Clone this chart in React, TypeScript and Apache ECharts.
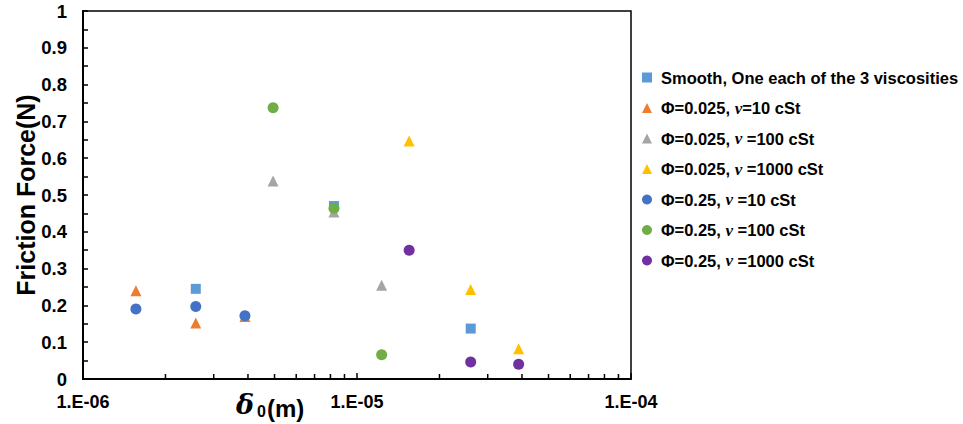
import React, { useEffect, useRef } from "react";
import * as echarts from "echarts";

// x positions (delta_0, m)
const smoothX = [2.58e-6, 8.24e-6, 2.6e-5];
const smoothY = [0.245, 0.47, 0.137];
const phi025nu10X = [1.56e-6, 2.58e-6, 3.9e-6];
const phi025nu10Y = [0.24, 0.152, 0.17];
const phi025nu100X = [4.94e-6, 8.24e-6, 1.23e-5];
const phi025nu100Y = [0.538, 0.454, 0.255];
const phi025nu1000X = [1.55e-5, 2.6e-5, 3.89e-5];
const phi025nu1000Y = [0.647, 0.243, 0.082];
const phi25nu10X = [1.56e-6, 2.58e-6, 3.9e-6];
const phi25nu10Y = [0.19, 0.197, 0.172];
const phi25nu100X = [4.94e-6, 8.24e-6, 1.23e-5];
const phi25nu100Y = [0.737, 0.464, 0.066];
const phi25nu1000X = [1.55e-5, 2.6e-5, 3.89e-5];
const phi25nu1000Y = [0.35, 0.046, 0.04];

const seriesNames = [
  "Smooth, One each of the 3 viscosities",
  "Φ=0.025, ν=10 cSt",
  "Φ=0.025, ν =100 cSt",
  "Φ=0.025, ν =1000 cSt",
  "Φ=0.25, ν =10 cSt",
  "Φ=0.25, ν =100 cSt",
  "Φ=0.25, ν =1000 cSt",
];
const seriesColors = ["#5B9BD5", "#ED7D31", "#A5A5A5", "#FFC000", "#4472C4", "#70AD47", "#7030A0"];
const seriesSymbols = ["rect", "triangle", "triangle", "triangle", "circle", "circle", "circle"];
const seriesX = [smoothX, phi025nu10X, phi025nu100X, phi025nu1000X, phi25nu10X, phi25nu100X, phi25nu1000X];
const seriesY = [smoothY, phi025nu10Y, phi025nu100Y, phi025nu1000Y, phi25nu10Y, phi25nu100Y, phi25nu1000Y];

const xMinorTicks = [2e-6, 3e-6, 4e-6, 5e-6, 6e-6, 7e-6, 8e-6, 9e-6, 2e-5, 3e-5, 4e-5, 5e-5, 6e-5, 7e-5, 8e-5, 9e-5];

const FONT = "'Liberation Sans', Arial, sans-serif";

export default function App() {
  const ref = useRef<HTMLDivElement>(null);
  useEffect(() => {
    if (!ref.current) return;
    const chart = echarts.init(ref.current, undefined, { renderer: "svg" });
    const scatter = seriesNames.map((name, i) => ({
      name,
      type: "scatter",
      symbol: seriesSymbols[i],
      symbolSize: seriesSymbols[i] === "rect" ? 10 : 11,
      itemStyle: { color: seriesColors[i], opacity: 1 },
      data: seriesX[i].map((x, j) => [x, seriesY[i][j]]),
      z: 3 + i,
    }));
    chart.setOption({
      animation: false,
      backgroundColor: "#fff",
      textStyle: { fontFamily: FONT },
      grid: {
        left: 83,
        right: 332,
        top: 11,
        bottom: 45,
        containLabel: false,
        outerBoundsMode: "none",
        show: true,
        borderColor: "#000",
        borderWidth: 1.5,
      },
      legend: {
        data: seriesNames,
        orient: "vertical",
        left: 637,
        top: 64,
        itemWidth: 10,
        itemHeight: 10,
        itemGap: 13.5,
        formatter: (name: string) => {
          const idx = name.indexOf("ν");
          if (idx < 0) return "{b|" + name + "}";
          const a = name.slice(0, idx);
          const b = name.slice(idx + 1);
          return "{b|" + a + "}{i|ν}{b|" + b + "}";
        },
        textStyle: {
          rich: {
            b: { fontFamily: FONT, fontWeight: "bold", fontSize: 16.5, color: "#000" },
            i: { fontFamily: "'Liberation Serif', serif", fontStyle: "italic", fontWeight: "bold", fontSize: 17, color: "#000" },
          },
          padding: [0, 0, 0, 4],
        },
      },
      xAxis: {
        type: "log",
        logBase: 10,
        min: 1e-6,
        max: 1e-4,
        axisLine: { show: true, onZero: false, lineStyle: { color: "#000", width: 2 } },
        axisTick: { show: true, inside: true, length: 6, lineStyle: { color: "#000", width: 1.5 } },
        splitLine: { show: false },
        axisLabel: {
          margin: 14,
          fontFamily: FONT,
          fontWeight: "bold",
          fontSize: 18,
          color: "#000",
          formatter: (v: number) => {
            const e = Math.round(Math.log10(v));
            const s = Math.abs(e).toString().padStart(2, "0");
            return "1.E" + (e < 0 ? "-" : "+") + s;
          },
        },
      },
      yAxis: {
        type: "value",
        min: 0,
        max: 1,
        interval: 0.1,
        name: "Friction Force(N)",
        nameLocation: "middle",
        nameGap: 45,
        nameMoveOverlap: false,
        nameTextStyle: { fontFamily: FONT, fontWeight: "bold", fontSize: 25, color: "#000" },
        axisLine: { show: true, lineStyle: { color: "#000", width: 2 } },
        axisTick: { show: true, inside: true, length: 5, lineStyle: { color: "#000", width: 1.5 } },
        minorTick: { show: true, splitNumber: 2, length: 5, lineStyle: { color: "#000", width: 1.5 } },
        splitLine: { show: false },
        axisLabel: { margin: 16, fontFamily: FONT, fontWeight: "bold", fontSize: 18.5, color: "#000" },
      },
      graphic: [
        {
          type: "text",
          left: 236,
          top: 391,
          style: { text: "δ", fontFamily: "'DejaVu Serif', serif", fontStyle: "italic", fontWeight: "bold", fontSize: 27, fill: "#000" },
        },
        {
          type: "text",
          left: 257,
          top: 403,
          style: { text: "0", fontFamily: FONT, fontWeight: "bold", fontSize: 16, fill: "#000" },
        },
        {
          type: "text",
          left: 267,
          top: 396,
          style: { text: "(m)", fontFamily: FONT, fontWeight: "bold", fontSize: 24, fill: "#000" },
        },
      ],
      series: [
        ...scatter,
        {
          name: "minorTicks",
          type: "custom",
          silent: true,
          data: xMinorTicks.map((v) => [v, 0]),
          encode: { x: 0, y: 1 },
          renderItem: (params: any, api: any) => {
            const p = api.coord([api.value(0), 0]);
            return {
              type: "line",
              shape: { x1: p[0], y1: p[1], x2: p[0], y2: p[1] - 5 },
              style: { stroke: "#000", lineWidth: 1.5 },
            };
          },
          z: 2,
        },
      ],
    });
    return () => chart.dispose();
  }, []);
  return <div ref={ref} style={{ position: "fixed", left: 0, top: 0, width: 963, height: 424 }} />;
}
